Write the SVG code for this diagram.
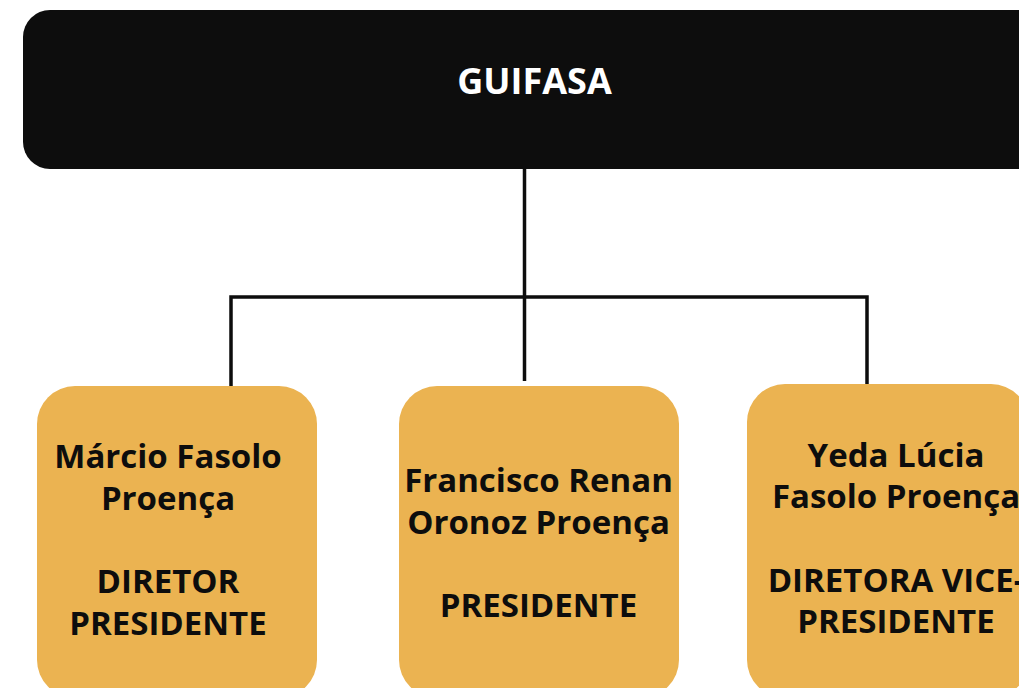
<svg xmlns="http://www.w3.org/2000/svg" width="1019" height="688" viewBox="0 0 1019 688">
<style>
.t{font-family:"Open Sans","Noto Sans","Liberation Sans",sans-serif;font-weight:bold;text-anchor:middle}
.n{fill:#EBB351}
.c{stroke:#0d0d0d;stroke-width:3.5;fill:none}
</style>
<rect width="1019" height="688" fill="#fff"/>
<g id="guifasa">
<rect x="23" y="10" width="1040" height="159" rx="27" fill="#0d0d0d"/>
<text class="t" x="534.5" y="94" font-size="36" fill="#fff">GUIFASA</text>
</g>
<g id="connectors">
<path class="c" d="M524.5 169V381"/>
<path class="c" d="M231 387V297H867V385"/>
</g>
<g id="marcio">
<rect class="n" x="37" y="386" width="280" height="312" rx="38"/>
<text class="t" font-size="33" fill="#0d0d0d"><tspan x="168" y="468">Márcio Fasolo</tspan><tspan x="168" y="510">Proença</tspan><tspan x="168" y="593">DIRETOR</tspan><tspan x="168" y="635">PRESIDENTE</tspan></text>
</g>
<g id="francisco">
<rect class="n" x="399" y="386" width="280" height="312" rx="38"/>
<text class="t" font-size="33" fill="#0d0d0d"><tspan x="538.5" y="492">Francisco Renan</tspan><tspan x="538.5" y="534">Oronoz Proença</tspan><tspan x="538.5" y="617">PRESIDENTE</tspan></text>
</g>
<g id="yeda">
<rect class="n" x="747" y="384" width="282" height="314" rx="38"/>
<text class="t" font-size="33" fill="#0d0d0d"><tspan x="896" y="467">Yeda Lúcia</tspan><tspan x="896" y="508">Fasolo Proença</tspan><tspan x="896" y="592">DIRETORA VICE-</tspan><tspan x="896" y="633">PRESIDENTE</tspan></text>
</g>
</svg>
